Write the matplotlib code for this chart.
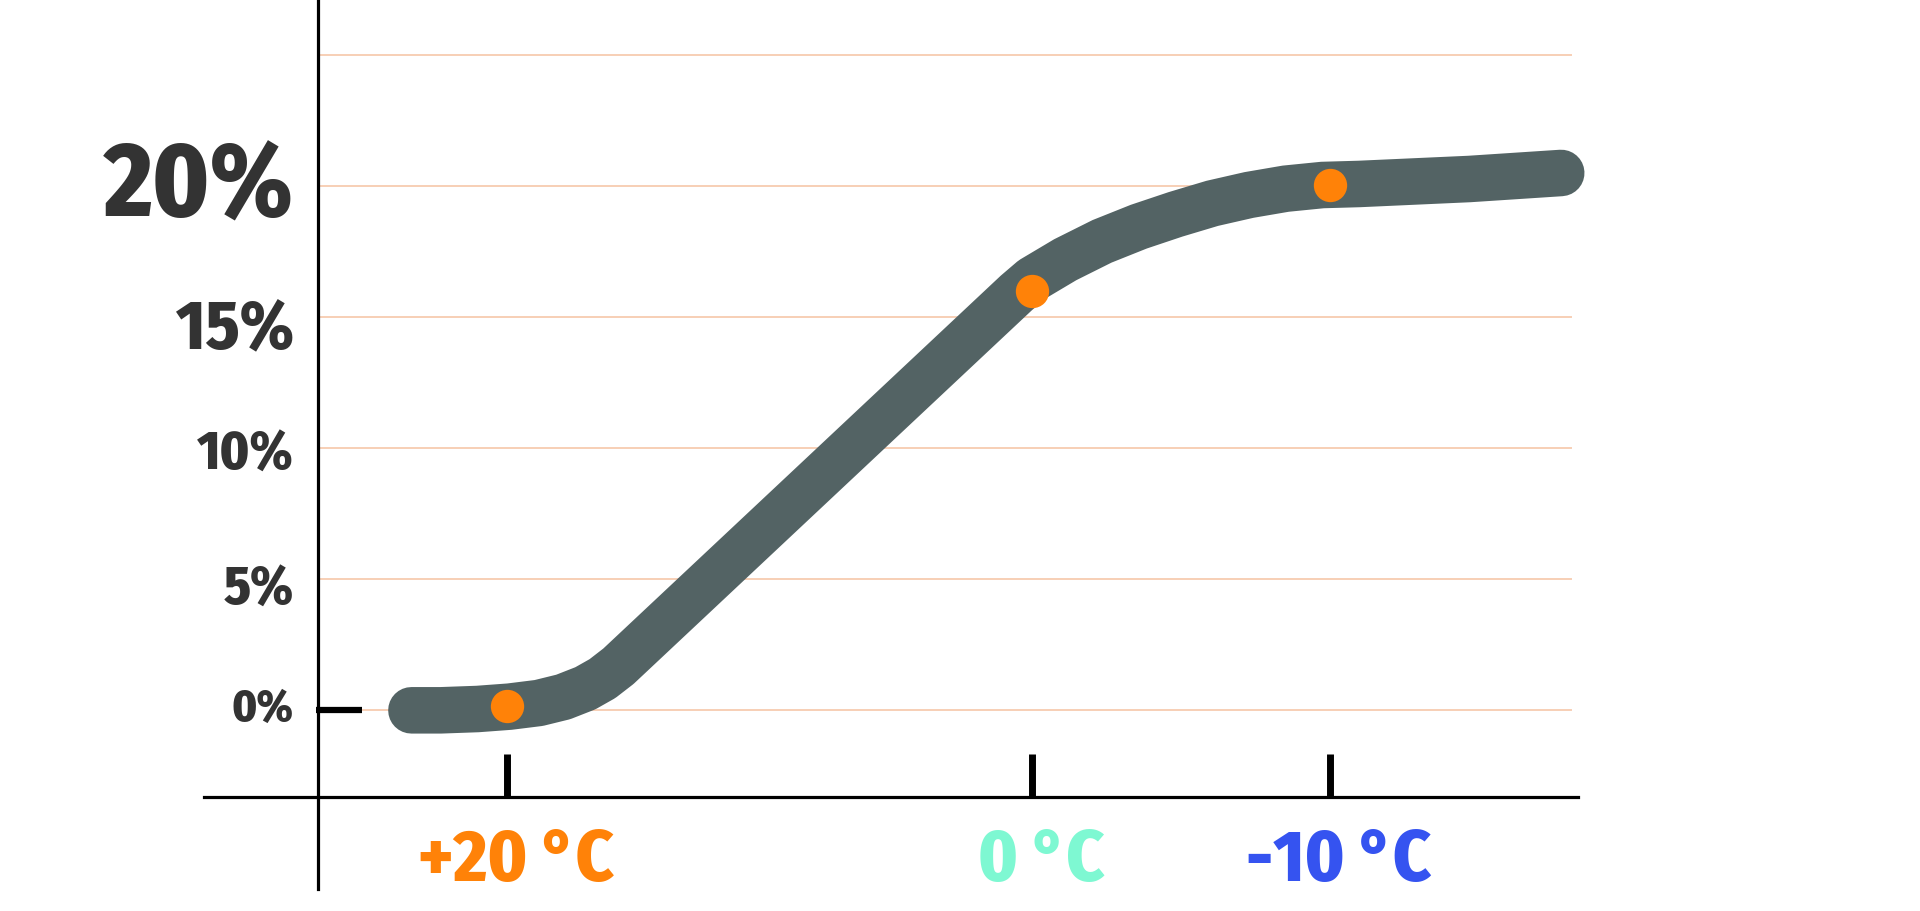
import matplotlib
matplotlib.use("Agg")
import matplotlib.pyplot as plt

# 字体：窄体粗字
plt.rcParams['font.family'] = ['Fira Sans Condensed', 'Roboto Condensed', 'DejaVu Sans']

# 数据
temp_labels = ['+20 °C', '0 °C', '-10 °C']
temp_colors = ['#ff8208', '#7ef8d2', '#3553f0']
temp_pos = [1.54, 5.83, 8.26]
point_vals = [0.15, 16.0, 20.05]

curve_x = [0.76, 1.00, 1.30, 1.56, 1.80, 2.00, 2.18, 2.32, 2.45, 5.70, 5.83,
           6.10, 6.40, 6.70, 7.00, 7.30, 7.60, 7.90, 8.20, 8.50, 9.40, 10.15]
curve_y = [0.00, 0.00, 0.05, 0.14, 0.28, 0.51, 0.84, 1.21, 1.68, 15.93, 16.45,
           17.20, 17.90, 18.46, 18.93, 19.35, 19.67, 19.91, 20.05, 20.09, 20.28, 20.51]

pct_ticks = [0, 5, 10, 15, 20]
pct_sizes = [33, 39, 39, 49, 75]
pct_shift = [0.1, -0.39, -0.25, -0.47, -0.05]   # 标签微调
grid_vals = [0, 5, 10, 15, 20, 25]

fig = plt.figure(figsize=(19.2, 9.12), dpi=100)
ax = fig.add_axes([0, 0, 1, 1])
ax.set_xlim(-2.6, 13.08)
ax.set_ylim(-7.66, 27.15)
ax.axis('off')

# 网格线
for g in grid_vals:
    ax.plot([0.02, 10.23], [g, g], color='#f7cfb6', lw=1.4, zorder=1)

# 坐标轴
ax.plot([0, 0], [-6.82, 27.15], color='black', lw=2.3, zorder=2)
ax.plot([-0.93, 10.29], [-3.32, -3.32], color='black', lw=2.3, zorder=2)
ax.plot([-0.02, 0.36], [0, 0], color='black', lw=4.5, solid_capstyle='butt', zorder=2)
for xp in temp_pos:
    ax.plot([xp, xp], [-3.32, -1.68], color='black', lw=5, solid_capstyle='butt', zorder=2)

# 曲线与数据点
ax.plot(curve_x, curve_y, color='#536364', lw=33.5, solid_capstyle='round',
        solid_joinstyle='round', zorder=3)
ax.plot(temp_pos, point_vals, 'o', color='#ff8208', ms=24, mec='none', zorder=4)

# 标签
for v, s, d in zip(pct_ticks, pct_sizes, pct_shift):
    ax.text(-0.2, v + d, f'{v}%', ha='right', va='center', fontsize=s,
            fontweight='heavy', color='#333333')
for xp, lab, c in zip(temp_pos, temp_labels, temp_colors):
    ax.text(xp + 0.07, -5.72, lab, ha='center', va='center', fontsize=52,
            fontweight='heavy', color=c)

fig.savefig('out.png', dpi=100)
